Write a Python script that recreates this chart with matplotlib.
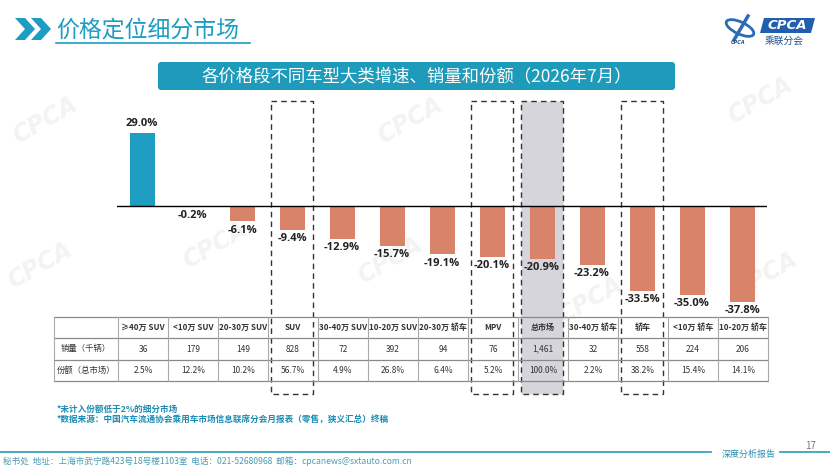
import matplotlib
matplotlib.use('Agg')
import matplotlib.pyplot as plt
from matplotlib.patches import Rectangle, FancyBboxPatch, Polygon, Ellipse
from matplotlib.transforms import blended_transform_factory

plt.rcParams['font.family'] = ['Noto Sans CJK SC', 'DejaVu Sans']

# ---------------- data ----------------
categories = ['≥40万 SUV', '<10万 SUV', '20-30万 SUV', 'SUV', '30-40万 SUV', '10-20万 SUV',
              '20-30万 轿车', 'MPV', '总市场', '30-40万 轿车', '轿车', '<10万 轿车', '10-20万 轿车']
growth = [29.0, -0.2, -6.1, -9.4, -12.9, -15.7, -19.1, -20.1, -20.9, -23.2, -33.5, -35.0, -37.8]
sales = ['36', '179', '149', '828', '72', '392', '94', '76', '1,461', '32', '558', '224', '206']
share = ['2.5%', '12.2%', '10.2%', '56.7%', '4.9%', '26.8%', '6.4%', '5.2%', '100.0%', '2.2%',
         '38.2%', '15.4%', '14.1%']
row_labels = ['销量（千辆）', '份额（总市场）']
boxed = ['SUV', 'MPV', '轿车']
highlight = '总市场'

page_title = '价格定位细分市场'
chart_title = '各价格段不同车型大类增速、销量和份额（2026年7月）'
notes = ['*未计入份额低于2%的细分市场',
         '*数据来源：中国汽车流通协会乘用车市场信息联席分会月报表（零售，狭义汇总）终稿']
footer = '秘书处  地址：上海市武宁路423号18号楼1103室  电话：021-52680968  邮箱：cpcanews@sxtauto.com.cn'
footer_tag = '深度分析报告'
page_no = '17'

# ---------------- style ----------------
W, H = 830, 468
TEAL = '#1C9DC1'
ORANGE = '#D9846A'
GRAY_BOX = '#D5D5DB'

fig = plt.figure(figsize=(W / 100, H / 100), dpi=100)
fig.patch.set_facecolor('white')


def fr(x0, y0, x1, y1):
    return [x0 / W, 1 - y1 / H, (x1 - x0) / W, (y1 - y0) / H]


# background / overlay axes in pixel coords
bg = fig.add_axes([0, 0, 1, 1], zorder=0)
bg.set_xlim(0, W)
bg.set_ylim(H, 0)
bg.axis('off')

# faint watermarks
for (wx, wy) in [(45, 120), (410, 120), (760, 100), (40, 265), (390, 260), (765, 275), (215, 245), (590, 300)]:
    bg.text(wx, wy, 'CPCA', rotation=30, fontsize=17, fontweight='bold', color='#F3F3F3',
            ha='center', va='center', family=['DejaVu Sans'], style='italic', zorder=-5)

# header chevrons
for off in (0, 16):
    bg.add_patch(Polygon([(15 + off, 18), (25 + off, 18), (35 + off, 29), (25 + off, 40),
                          (15 + off, 40), (25 + off, 29)], closed=True, color=TEAL, lw=0))
bg.text(56, 30, page_title, fontsize=16.5, color=TEAL, ha='left', va='center')
bg.plot([56, 250], [43, 43], color=TEAL, lw=1.2)

# logo
bg.add_patch(Polygon([(764, 18), (815, 18), (811, 33), (760, 33)], closed=True, color='#1F5FAE', lw=0))
bg.text(787, 25.5, 'CPCA', color='white', fontsize=9.5, fontweight='bold', style='italic',
        ha='center', va='center', family=['DejaVu Sans'])
bg.text(784, 41, '乘联分会', color='#1F4F8E', fontsize=7, ha='center', va='center')
bg.add_patch(Ellipse((740, 28), 30, 12, angle=25, fill=False, edgecolor='#2B6DB5', lw=2))
bg.plot([734, 748], [40, 16], color='#2B6DB5', lw=2.5)
bg.text(738, 43, 'CPCA', color='#1F4F8E', fontsize=3.5, style='italic', ha='center', va='center',
        family=['DejaVu Sans'], fontweight='bold')

# chart title banner
bg.add_patch(FancyBboxPatch((158, 62), 517, 28, boxstyle='round,pad=0,rounding_size=3',
                            facecolor='#1E9BBA', edgecolor='none'))
bg.text(416.5, 76, chart_title, color='white', fontsize=12.5, ha='center', va='center')

# ---------------- bar chart ----------------
ZERO_Y, PX_PER = 206, 2.53
top_px, bot_px = 95, 312
ax = fig.add_axes(fr(117, top_px, 767, bot_px), zorder=2)
ax.patch.set_alpha(0)
ax.set_xlim(-0.5, len(categories) - 0.5)
ax.set_ylim(-(bot_px - ZERO_Y) / PX_PER, (ZERO_Y - top_px) / PX_PER)
ax.axis('off')

xs = list(range(len(categories)))
colors = [TEAL if v > 0 else ORANGE for v in growth]
ax.bar(xs, growth, width=0.5, color=colors, zorder=2)
ax.axhline(0, color='black', lw=1, zorder=3)
for i, v in enumerate(growth):
    if v >= 0:
        ax.annotate(f'{v:.1f}%', (i, v), xytext=(0, 2.5), textcoords='offset points',
                    ha='center', va='bottom', fontsize=8, fontweight='bold', color='#222222',
                    family=['Open Sans', 'DejaVu Sans'])
    else:
        ax.annotate(f'{v:.1f}%', (i, v), xytext=(0, -2.5), textcoords='offset points',
                    ha='center', va='top', fontsize=8, fontweight='bold', color='#222222',
                    family=['Open Sans', 'DejaVu Sans'])

# dashed boxes spanning chart + table
btr = blended_transform_factory(ax.transData, bg.transData)
for i, c in enumerate(categories):
    if c in boxed or c == highlight:
        fc = GRAY_BOX if c == highlight else 'none'
        bg.add_patch(Rectangle((i - 0.42, 101), 0.84, 293, transform=btr, facecolor=fc,
                               edgecolor='#333333', lw=1, ls=(0, (4, 3)), clip_on=False))

# ---------------- table ----------------
label_w = 64 / 50
tb = fig.add_axes(fr(54, 317, 768, 381), zorder=1)
tb.patch.set_alpha(0)
x_left = -0.5 - label_w
tb.set_xlim(x_left, len(categories) - 0.5)
tb.set_ylim(3, 0)
tb.axis('off')
for r in range(4):
    tb.plot([x_left, len(categories) - 0.5], [r, r], color='#8A8A8A', lw=0.9, clip_on=False)
bounds = [x_left] + [i - 0.5 for i in range(len(categories) + 1)]
for b in bounds:
    tb.plot([b, b], [0, 3], color='#A8A8A8', lw=0.8, clip_on=False)

tb.text(x_left + label_w / 2, 1.5, row_labels[0], ha='center', va='center', fontsize=6, color='#333333')
tb.text(x_left + label_w / 2, 2.5, row_labels[1], ha='center', va='center', fontsize=6, color='#333333')
for i, c in enumerate(categories):
    tb.text(i, 0.5, c, ha='center', va='center', fontsize=5.8, fontweight='bold', color='#333333')
    tb.text(i, 1.5, sales[i], ha='center', va='center', fontsize=6, color='#333333')
    tb.text(i, 2.5, share[i], ha='center', va='center', fontsize=6, color='#333333')

# ---------------- notes & footer ----------------
bg.text(57, 409, notes[0], fontsize=6.2, color='#1A8DB4', ha='left', va='center', fontweight='bold')
bg.text(57, 420, notes[1], fontsize=6.2, color='#1A8DB4', ha='left', va='center', fontweight='bold')

bg.plot([0, 711], [452, 452], color='#3AA3BE', lw=1.3)
bg.plot([780, 830], [452, 452], color='#3AA3BE', lw=1.3)
bg.text(749, 454, footer_tag, fontsize=6.5, color='#2C8FB0', ha='center', va='center', style='italic')
bg.text(811, 446, page_no, fontsize=7, color='#777777', ha='center', va='center')
bg.text(3, 461, footer, fontsize=6.2, color='#4A9DB3', ha='left', va='center')

fig.savefig('out.png', dpi=100, facecolor='white')
